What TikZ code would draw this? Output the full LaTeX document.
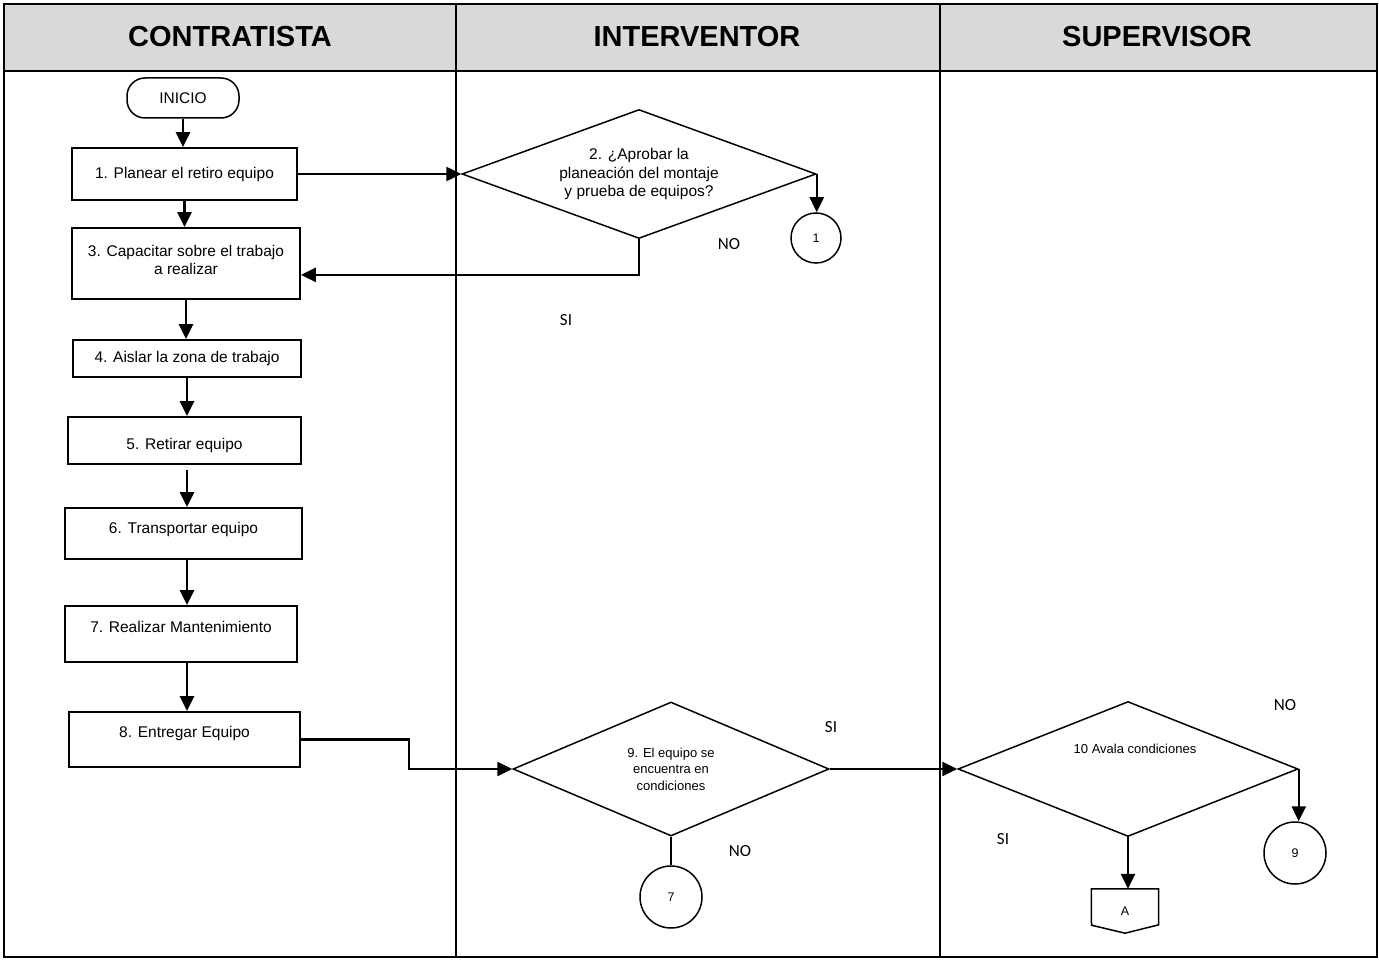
\documentclass[tikz,border=0pt]{standalone}
\usepackage{fontspec}
\setmainfont{Liberation Sans}
\newfontfamily\etiq{Carlito}
\usetikzlibrary{shapes.geometric,arrows.meta,calc}
\definecolor{cabecera}{HTML}{D9D9D9}

\tikzset{
  paso/.style = {draw, line width = 1.8pt, rectangle, align = center, inner sep = 0pt, font = \fontsize{15.5}{18}\selectfont},
  decision/.style = {draw, line width = 1.5pt, diamond, inner sep = 0pt, align = center},
  conector/.style = {draw, line width = 1.5pt, circle, inner sep = 0pt, font = \fontsize{12.5}{14}\selectfont},
  flecha/.style = {line width = 2.5pt, -{Triangle[length = 15pt, width = 14pt]}},
  linea/.style = {line width = 2.5pt},
  sino/.style = {font = \etiq\fontsize{17}{20}\selectfont},
  titulo/.style = {font = \bfseries\fontsize{29}{34}\selectfont}
}

\begin{document}
\begin{tikzpicture}[x = 1pt, y = -1pt]
			\useasboundingbox (0, 0) rectangle (1379, 960);

			% Encabezado y carriles
			\fill[cabecera] (4, 4) rectangle (1377, 71);
			\draw[line width = 2pt] (4, 4) rectangle (1377, 957);
			\draw[line width = 2pt] (4, 71) -- (1377, 71);
			\draw[line width = 2pt] (456, 4) -- (456, 957);
			\draw[line width = 2pt] (940, 4) -- (940, 957);

			\node[titulo] (contratista) at (230, 37) {CONTRATISTA};
			\node[titulo] (interventor) at (697, 37) {INTERVENTOR};
			\node[titulo] (supervisor) at (1157, 37) {SUPERVISOR};

			% Pasos del contratista
			\node[draw, line width = 1.5pt, rounded corners = 18pt, minimum width = 112pt, minimum height = 40pt, font = \fontsize{15.5}{18}\selectfont] (inicio) at (183, 98) {INICIO};
			\node[paso, minimum width = 225pt, minimum height = 52pt] (b1) at (184.5, 174) {1. Planear el retiro equipo};
			\node[paso, minimum width = 228pt, minimum height = 71pt, text depth = 8pt] (b3) at (186, 263.5) {3. Capacitar sobre el trabajo\\a realizar};
			\node[paso, minimum width = 228pt, minimum height = 37pt] (b4) at (187, 358.5) {4. Aislar la zona de trabajo};
			\node[paso, minimum width = 233pt, minimum height = 47pt, text height = 22pt] (b5) at (184.5, 440.5) {5. Retirar equipo};
			\node[paso, minimum width = 237pt, minimum height = 51pt, text depth = 11pt] (b6) at (183.5, 533.5) {6. Transportar equipo};
			\node[paso, minimum width = 232pt, minimum height = 56pt, text depth = 14pt] (b7) at (181, 634) {7. Realizar Mantenimiento};
			\node[paso, minimum width = 231pt, minimum height = 55pt, text depth = 15pt] (b8) at (184.5, 739.5) {8. Entregar Equipo};

			% Decisiones
			\node[decision, aspect = 2.74, minimum width = 354pt, minimum height = 129pt, font = \fontsize{15.5}{18.3}\selectfont] (d2) at (639, 174) {2. ¿Aprobar la\\planeación del montaje\\y prueba de equipos?};
			\node[decision, aspect = 2.36, minimum width = 316pt, minimum height = 134pt, font = \fontsize{13}{16.5}\selectfont] (d9) at (671, 769) {9. El equipo se\\encuentra en\\condiciones};
			\node[decision, aspect = 2.52, minimum width = 340pt, minimum height = 135pt] (d10) at (1128, 769) {};
			\node[font = \fontsize{13}{16}\selectfont] (t10) at (1135, 749) {10 Avala condiciones};

			% Conectores
			\node[conector, minimum size = 50pt] (c1) at (816, 238) {1};
			\node[conector, minimum size = 62pt] (c7) at (671, 897) {7};
			\node[conector, minimum size = 62pt] (c9) at (1295, 853) {9};
			\node[inner sep = 0pt, minimum width = 67pt, minimum height = 44pt, font = \fontsize{12.5}{14}\selectfont] (pagA) at (1125, 911) {A};
			\draw[line width = 1.5pt] (pagA.north west) -- (pagA.north east) -- ++(0, 36) -- (pagA.south) -- ++(-33.5, -8) -- cycle;

			% Flujo
			\draw[flecha] (inicio.south) -- (inicio.south |- b1.north);
			\draw[flecha] (b1.east) -- (d2.west);
			\draw[flecha] (d2.east) -- (d2.east |- c1.north);
			\draw[flecha] (d2.south) |- ($(b3.south east) + (0, -25)$);
			\draw[flecha] (b1.south) -- (b1.south |- b3.north);
			\draw[flecha] (b3.south) -- (b3.south |- b4.north);
			\draw[flecha] (b4.south) -- (b4.south |- b5.north);
			\draw[flecha, shorten <= 5pt] (b4.south |- b5.south) -- (b4.south |- b6.north);
			\draw[flecha] (b4.south |- b6.south) -- (b4.south |- b7.north);
			\draw[flecha] (b4.south |- b7.south) -- (b4.south |- b8.north);
			\draw[flecha] (b8.east) -- ++(108, 0) |- (d9.west);
			\draw[linea] (d9.south) -- (d9.south |- c7.north);
			\draw[flecha] (d9.east) -- (d10.west);
			\draw[flecha] (d10.east) -- (d10.east |- c9.north);
			\draw[flecha] (d10.south) -- (d10.south |- pagA.north);

			% Etiquetas SI / NO
			\node[sino] (no2) at (729, 244) {NO};
			\node[sino] (si2) at (566, 320) {SI};
			\node[sino] (si9) at (831, 727) {SI};
			\node[sino] (no9) at (740, 851) {NO};
			\node[sino] (no10) at (1285, 705) {NO};
			\node[sino] (si10) at (1003, 839) {SI};
		\end{tikzpicture}
\end{document}
